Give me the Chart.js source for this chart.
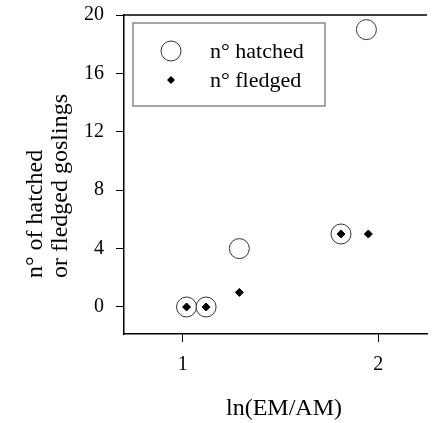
<!DOCTYPE html>
<html>
<head>
<meta charset="utf-8">
<title>Goslings vs ln(EM/AM)</title>
<script src="https://cdn.jsdelivr.net/npm/chart.js@4/dist/chart.umd.min.js"></script>
<style>
    html, body { margin: 0; padding: 0; background: #ffffff; }
    #wrap { position: relative; width: 438px; height: 423px; overflow: hidden; }
</style>
</head>
<body>
<div id="wrap">
    <canvas id="goslingChart" width="438" height="423"></canvas>
</div>
<script>
// Chart data
var hatchedX = [1.02, 1.12, 1.29, 1.81, 1.94];
var hatchedY = [0, 0, 4, 5, 19];
var fledgedX = [1.02, 1.12, 1.29, 1.81, 1.95];
var fledgedY = [0, 0, 1, 5, 5];
var xTicks = [1, 2];
var yTicks = [0, 4, 8, 12, 16, 20];
var xTitle = "ln(EM/AM)";
var yTitle = ["n\u00b0 of hatched", "or fledged goslings"];

function toPoints(xs, ys) {
    var out = [];
    xs.forEach(function (x, i) {
        out.push({ x: x, y: ys[i] });
    });
    return out;
}

var FONT = "'Liberation Serif', 'DejaVu Serif', serif";

// top frame line, legend box and axis titles
var decorPlugin = {
    id: "decor",
    afterDraw: function (chart) {
        var ctx = chart.ctx;
        var area = chart.chartArea;
        ctx.save();

        // top border
        ctx.strokeStyle = "#000000";
        ctx.lineWidth = 1.5;
        ctx.beginPath();
        ctx.moveTo(area.left, area.top);
        ctx.lineTo(area.right, area.top);
        ctx.stroke();

        // legend inside the plot
        var lx = area.left + 9, ly = area.top + 8;
        ctx.strokeStyle = "#777777";
        ctx.lineWidth = 1.3;
        ctx.strokeRect(lx, ly, 192, 83);

        var ds = chart.data.datasets;
        ctx.lineWidth = 1;
        ctx.strokeStyle = "#333333";
        ctx.fillStyle = "#ffffff";
        ctx.beginPath();
        ctx.arc(lx + 38, ly + 28, 10, 0, Math.PI * 2);
        ctx.fill();
        ctx.stroke();

        ctx.fillStyle = "#000000";
        ctx.beginPath();
        ctx.moveTo(lx + 38 - 4, ly + 57);
        ctx.lineTo(lx + 38, ly + 57 - 4);
        ctx.lineTo(lx + 38 + 4, ly + 57);
        ctx.lineTo(lx + 38, ly + 57 + 4);
        ctx.closePath();
        ctx.fill();

        ctx.font = "22px " + FONT;
        ctx.textAlign = "left";
        ctx.textBaseline = "alphabetic";
        ctx.fillText(ds[1].label, lx + 77, ly + 35);
        ctx.fillText(ds[0].label, lx + 77, ly + 64);

        // x axis title
        ctx.font = "24px " + FONT;
        ctx.textAlign = "center";
        ctx.fillText(xTitle, 284, 415);

        // y axis title, two lines starting at the same height
        ctx.translate(0, 278);
        ctx.rotate(-Math.PI / 2);
        ctx.textAlign = "left";
        ctx.fillText(yTitle[0], 0, 42);
        ctx.fillText(yTitle[1], 0, 67);

        ctx.restore();
    }
};

function initGoslingChart() {
    "use strict";

    var ctx = document.getElementById("goslingChart").getContext("2d");

    new Chart(ctx, {
        type: "scatter",
        data: {
            datasets: [
                {
                    label: "n\u00b0 fledged",
                    data: toPoints(fledgedX, fledgedY),
                    pointStyle: "rectRot",
                    pointRadius: 4,
                    backgroundColor: "#000000",
                    borderColor: "#000000",
                    borderWidth: 1,
                    order: 0
                },
                {
                    label: "n\u00b0 hatched",
                    data: toPoints(hatchedX, hatchedY),
                    pointStyle: "circle",
                    pointRadius: 10,
                    backgroundColor: "#ffffff",
                    borderColor: "#333333",
                    borderWidth: 1,
                    order: 1
                }
            ]
        },
        options: {
            responsive: false,
            animation: false,
            events: [],
            layout: {
                padding: { top: 15, left: 0, right: 0, bottom: 0 }
            },
            plugins: {
                legend: { display: false },
                tooltip: { enabled: false }
            },
            scales: {
                x: {
                    type: "linear",
                    min: 0.7,
                    max: 2.25,
                    afterBuildTicks: function (scale) {
                        scale.ticks = xTicks.map(function (v) { return { value: v }; });
                    },
                    afterFit: function (scale) {
                        scale.height = 89;
                        scale.paddingLeft = 0;
                        scale.paddingRight = 0;
                    },
                    grid: {
                        display: true,
                        drawOnChartArea: false,
                        drawTicks: true,
                        tickLength: 8,
                        color: "#000000"
                    },
                    border: { display: true, color: "#000000", width: 1.5 },
                    ticks: {
                        padding: 11,
                        color: "#000000",
                        font: { family: FONT, size: 20 }
                    }
                },
                y: {
                    type: "linear",
                    min: -1.85,
                    max: 20,
                    afterBuildTicks: function (scale) {
                        scale.ticks = yTicks.map(function (v) { return { value: v }; });
                    },
                    afterFit: function (scale) {
                        scale.width = 124;
                        scale.paddingTop = 0;
                        scale.paddingBottom = 0;
                    },
                    grid: {
                        display: true,
                        drawOnChartArea: false,
                        drawTicks: true,
                        tickLength: 8,
                        color: "#000000"
                    },
                    border: { display: true, color: "#000000", width: 1.5 },
                    ticks: {
                        padding: 12,
                        color: "#000000",
                        font: { family: FONT, size: 20 }
                    }
                }
            }
        },
        plugins: [decorPlugin]
    });
}

document.addEventListener("DOMContentLoaded", initGoslingChart);
</script>
</body>
</html>
